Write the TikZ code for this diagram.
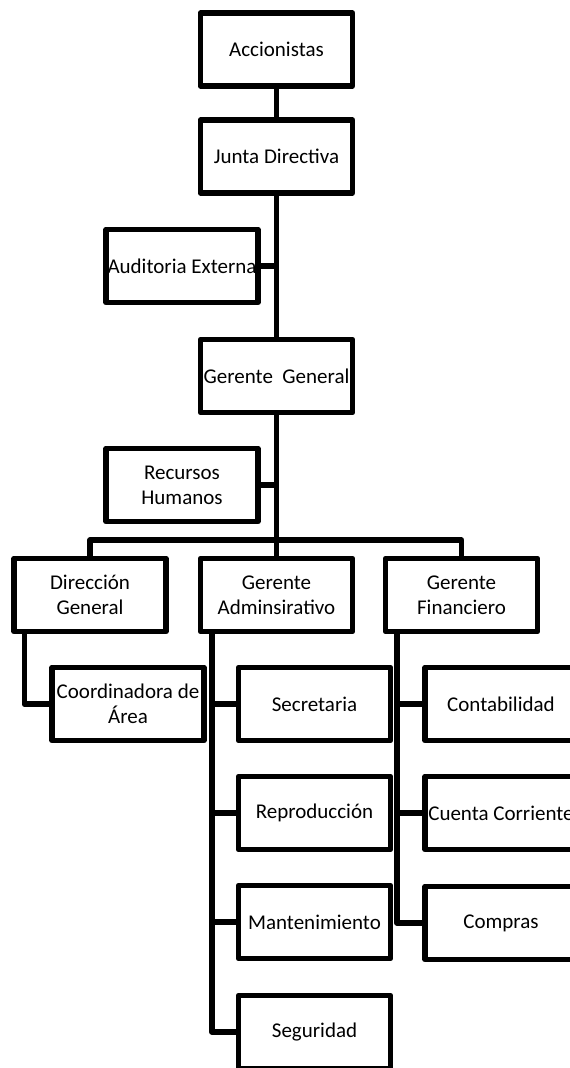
\documentclass[tikz,border=0pt]{standalone}
\usepackage{fontspec}
\setmainfont{Carlito}
\tikzset{
  unidad/.style={draw, line width=5.5pt, line join=round, minimum width=152pt,
    minimum height=73pt, inner sep=0pt, align=center,
    font=\fontsize{21}{25}\selectfont},
  enlace/.style={line width=5.5pt, line join=round},
}

\begin{document}
\begin{tikzpicture}[x=1pt, y=-1pt]
    \useasboundingbox (0,0) rectangle (570,1068);
    \clip (0,0) rectangle (570,1068);

    \node[unidad] (acc) at (276.5,49.5) {Accionistas};
    \node[unidad] (jd) at (276.5,156.5) {Junta Directiva};
    \node[unidad] (aud) at (182,266) {Auditoria Externa};
    \node[unidad] (gg) at (276.5,376) {Gerente\ \ General};
    \node[unidad] (rh) at (182,485) {Recursos\\Humanos};

    \node[unidad] (dg) at (90,595) {Dirección\\General};
    \node[unidad] (ga) at (276.5,595) {Gerente\\Adminsirativo};
    \node[unidad] (gf) at (461.5,595) {Gerente\\Financiero};
    \node[unidad] (coo) at (128,704) {Coordinadora de\\Área};

    \node[unidad] (sec) at (314.5,704) {Secretaria};
    \node[unidad] (rep) at (314.5,813) {Reproducción};
    \node[unidad] (man) at (314.5,922) {Mantenimiento};
    \node[unidad] (seg) at (314.5,1032) {Seguridad};

    \node[unidad] (con) at (501,704) {Contabilidad};
    \node[unidad] (cc) at (501,813) {Cuenta Corriente};
    \node[unidad] (com) at (501,923) {Compras};

    \coordinate (bus) at (276.5,540);

    \draw[enlace] (acc) -- (jd);
    \draw[enlace] (jd) -- (gg);
    \draw[enlace] (aud.east) -- (aud -| jd);
    \draw[enlace] (gg) -- (ga);
    \draw[enlace] (rh.east) -- (rh -| gg);
    \draw[enlace] (dg.north) |- (bus) -| (gf.north);
    \draw[enlace] ([xshift=13pt]dg.south west) |- (coo.west);
    \foreach \n in {sec,rep,man,seg}
        \draw[enlace] ([xshift=14pt]ga.south west) |- (\n.west);
    \foreach \n in {con,cc,com}
        \draw[enlace] ([xshift=14pt]gf.south west) |- (\n.west);
\end{tikzpicture}
\end{document}
